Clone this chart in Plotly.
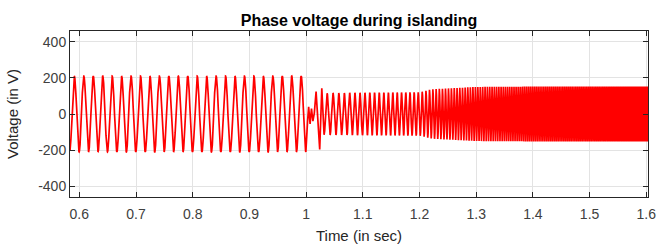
import numpy as np
import plotly.graph_objects as go

# ---------------- data ----------------
# Grid-connected part: steady 60 Hz sine
pre_freq_hz = 60.0
pre_amp_v = 210.0
pre_first_peak_s = 0.5913
pre_start_s = 0.5836
pre_end_s = 0.9996          # last trough before the transient

# Transient right after islanding (individual extrema)
trans_t = [1.0025, 1.0045, 1.0070, 1.0095, 1.0120, 1.0145, 1.0176, 1.0240, 1.0277]
trans_v = [-45, 40, -55, 30, -40, 5, 124, -196, 143]

# Islanded part: envelope and oscillation frequency at time knots
post_t = [1.0317, 1.10, 1.20, 1.222, 1.30, 1.40, 1.60, 1.605]
post_amp = [115, 118, 120, 137, 150, 152, 152, 152]
post_freq = [92, 115, 140, 170, 230, 290, 340, 340]

x_ticks = [0.6, 0.7, 0.8, 0.9, 1.0, 1.1, 1.2, 1.3, 1.4, 1.5, 1.6]
y_ticks = [-400, -200, 0, 200, 400]
y_tick_text = ["-400", "-200", "0", "200", "400"]

# ---------------- build the waveform ----------------
dt = 2e-5
t_pre = np.arange(pre_start_s, pre_end_s, dt)
v_pre = pre_amp_v * np.cos(2 * np.pi * pre_freq_hz * (t_pre - pre_first_peak_s))

t_post = np.arange(post_t[0], post_t[-1], dt)
f_post = np.interp(t_post, post_t, post_freq)
a_post = np.interp(t_post, post_t, post_amp)
phase = 2 * np.pi * np.cumsum(f_post) * dt
v_post = -a_post * np.cos(phase)

t_all = np.concatenate([t_pre, np.array(trans_t), t_post])
v_all = np.concatenate([v_pre, np.array(trans_v, dtype=float), v_post])

fig = go.Figure()
fig.add_trace(go.Scatter(x=t_all, y=v_all, mode="lines",
                         line=dict(color="#ff0000", width=1.7), hoverinfo="skip",
                         showlegend=False))

font_family = "Liberation Sans, Arial, sans-serif"
axis_common = dict(
    showline=True, linecolor="#262626", linewidth=1, mirror="allticks",
    ticks="inside", ticklen=5, tickcolor="#262626",
    showgrid=True, gridcolor="#e3e3e3", gridwidth=1, zeroline=False,
    automargin=False,
    tickfont=dict(family=font_family, size=14, color="#404040"),
)

fig.update_layout(
    width=657, height=244,
    margin=dict(l=70, r=9, t=31, b=47),
    paper_bgcolor="white", plot_bgcolor="white",
    title=dict(text="<b>Phase voltage during islanding</b>", x=0.5, xref="paper",
               y=1 - 20 / 244, yref="container", yanchor="middle", xanchor="center",
               font=dict(family=font_family, size=16, color="#000000")),
    xaxis=dict(range=[0.5836, 1.603], tickvals=x_ticks, ticklabelstandoff=4,
               title=dict(text="Time (in sec)",
                          font=dict(family=font_family, size=15, color="#262626")),
               **axis_common),
    yaxis=dict(range=[-460, 460], tickvals=y_ticks, ticktext=y_tick_text,
               title=dict(text="Voltage (in V)",
                          font=dict(family=font_family, size=15, color="#262626")),
               **axis_common),
)

fig.write_html("out.html",
               config={"displayModeBar": False, "staticPlot": True},
               post_script="document.body.style.margin='0';"
                           "document.body.style.overflow='hidden';")
